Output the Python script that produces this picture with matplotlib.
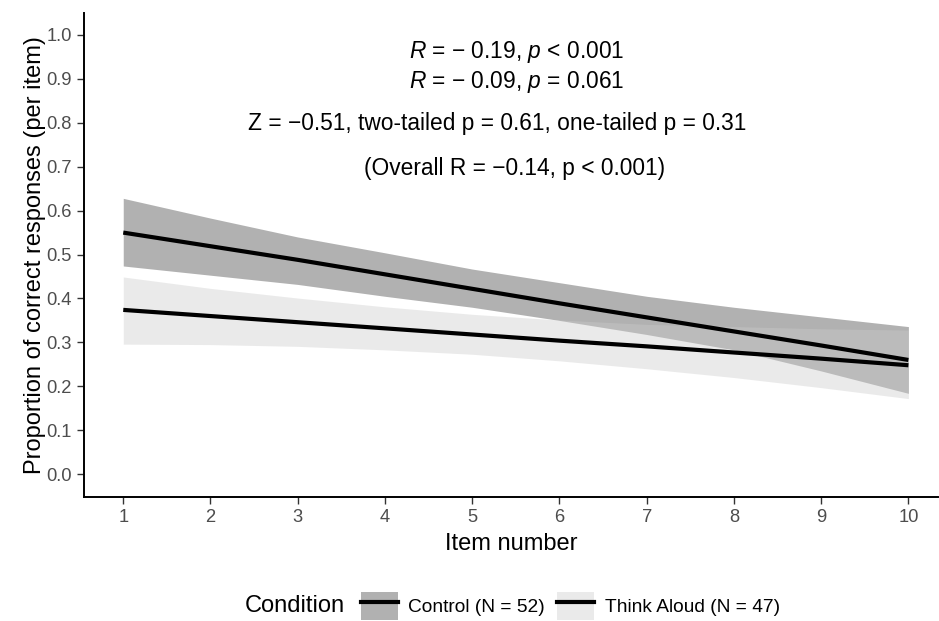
import matplotlib
matplotlib.use("Agg")
import matplotlib.pyplot as plt
from matplotlib.patches import Patch
from matplotlib.lines import Line2D
from matplotlib.legend_handler import HandlerTuple

plt.rcParams['font.family'] = ['Liberation Sans', 'DejaVu Sans']
plt.rcParams['mathtext.fontset'] = 'custom'
plt.rcParams['mathtext.rm'] = 'Liberation Sans'
plt.rcParams['mathtext.it'] = 'Liberation Sans:italic'

# ---- data ----
items = [1, 2, 3, 4, 5, 6, 7, 8, 9, 10]
ctrl_fit = [0.550, 0.519, 0.488, 0.455, 0.422, 0.389, 0.357, 0.325, 0.293, 0.260]
ctrl_lo = [0.474, 0.453, 0.432, 0.405, 0.380, 0.350, 0.318, 0.283, 0.235, 0.184]
ctrl_hi = [0.628, 0.583, 0.540, 0.504, 0.467, 0.436, 0.405, 0.380, 0.358, 0.336]
ta_fit = [0.374, 0.360, 0.346, 0.332, 0.318, 0.304, 0.291, 0.277, 0.263, 0.248]
ta_lo = [0.296, 0.295, 0.291, 0.283, 0.273, 0.258, 0.240, 0.220, 0.197, 0.172]
ta_hi = [0.449, 0.423, 0.401, 0.381, 0.364, 0.351, 0.341, 0.336, 0.331, 0.328]
labels = ["Control (N = 52)", "Think Aloud (N = 47)"]
yticks = [0.0, 0.1, 0.2, 0.3, 0.4, 0.5, 0.6, 0.7, 0.8, 0.9, 1.0]
annot = [
    r"$\it{R}$ = − 0.19, $\it{p}$ < 0.001",
    r"$\it{R}$ = − 0.09, $\it{p}$ = 0.061",
    "Z = −0.51, two-tailed p = 0.61, one-tailed p = 0.31",
    "(Overall R = −0.14, p < 0.001)",
]

fig = plt.figure(figsize=(9.39, 6.21), dpi=100)
ax = fig.add_axes([84/939, 1-497/621, 1-84/939-0.001, (497-13)/621])

c_fill, c_alpha = '#333333', 0.38
t_fill, t_alpha = '#cccccc', 0.40

ax.fill_between(items, ctrl_lo, ctrl_hi, color=c_fill, alpha=c_alpha, lw=0)
ax.plot(items, ctrl_fit, color='black', lw=3, solid_capstyle='butt')
ax.fill_between(items, ta_lo, ta_hi, color=t_fill, alpha=t_alpha, lw=0)
ax.plot(items, ta_fit, color='black', lw=3, solid_capstyle='butt')

ax.set_xlim(0.55, 10.34)
ax.set_ylim(-0.052, 1.05)
ax.set_xticks(items)
ax.set_yticks(yticks)
ax.set_yticklabels([f"{v:.1f}" for v in yticks])
for s in ['top', 'right']:
    ax.spines[s].set_visible(False)
for s in ['left', 'bottom']:
    ax.spines[s].set_linewidth(1.4)
ax.tick_params(axis='both', length=5, width=1.0, color='#333333',
               labelcolor='#4d4d4d', labelsize=13.2, pad=4)
ax.set_xlabel("Item number", fontsize=17, labelpad=5)
ax.set_ylabel("Proportion of correct responses (per item)", fontsize=17, labelpad=0)

fs = 16.4
ax.text(5.51, 0.962, annot[0], ha='center', va='center', fontsize=fs)
ax.text(5.51, 0.893, annot[1], ha='center', va='center', fontsize=fs)
ax.text(5.29, 0.798, annot[2], ha='center', va='center', fontsize=fs)
ax.text(5.48, 0.697, annot[3], ha='center', va='center', fontsize=fs)

# legend
h1 = (Patch(facecolor=c_fill, alpha=c_alpha, lw=0), Line2D([], [], color='black', lw=3))
h2 = (Patch(facecolor=t_fill, alpha=t_alpha, lw=0), Line2D([], [], color='black', lw=3))
leg = fig.legend([h1, h2], labels, handler_map={tuple: HandlerTuple(ndivide=1, pad=0)},
                 loc='center left', bbox_to_anchor=(351/939, 0.024), ncol=2, frameon=False,
                 fontsize=13.8, handlelength=1.93, handleheight=1.93, handletextpad=0.57,
                 columnspacing=0.62, borderpad=0)
fig.text(245/939, 0.024, "Condition", ha='left', va='center', fontsize=17)

fig.savefig("out.png", dpi=100)
